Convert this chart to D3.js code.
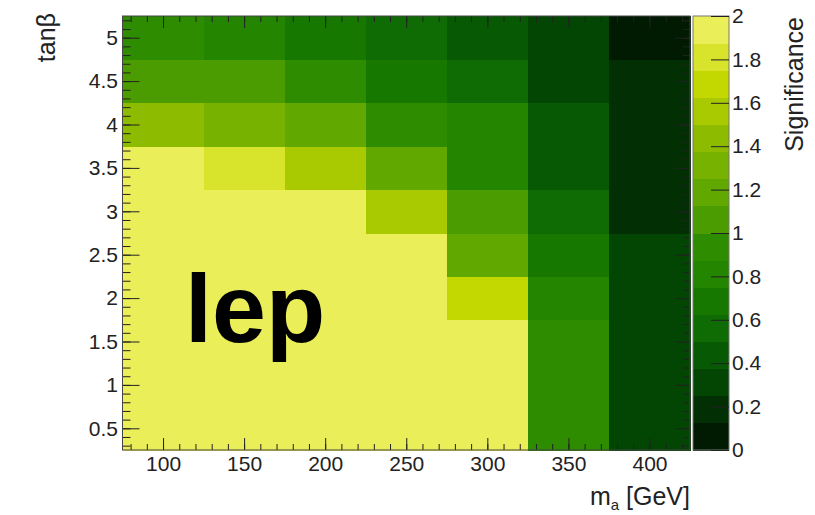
<!DOCTYPE html>
<html>
<head>
<meta charset="utf-8">
<script src="https://cdn.jsdelivr.net/npm/d3@7"></script>
<style>
  html, body { margin: 0; padding: 0; background: #fff; }
  svg text { font-family: "Liberation Sans", Arial, Helvetica, sans-serif; fill: #222; }
</style>
</head>
<body>
<svg id="chart" width="815" height="515"></svg>
<script>
// Pseudoscalar mass bins (GeV) and tan(beta) bins
const massPoints = [100, 150, 200, 250, 300, 350, 400];
const tanBeta = [0.5, 1, 1.5, 2, 2.5, 3, 3.5, 4, 4.5, 5];

// Significance per tan(beta) row, one value per mass bin
const sig_tb05 = [2, 2, 2, 2, 2, 0.95, 0.3];
const sig_tb10 = [2, 2, 2, 2, 2, 0.95, 0.3];
const sig_tb15 = [2, 2, 2, 2, 2, 0.95, 0.3];
const sig_tb20 = [2, 2, 2, 2, 1.7, 0.8, 0.3];
const sig_tb25 = [2, 2, 2, 2, 1.2, 0.7, 0.3];
const sig_tb30 = [2, 2, 2, 1.55, 1.05, 0.55, 0.2];
const sig_tb35 = [2, 1.8, 1.55, 1.2, 0.8, 0.45, 0.2];
const sig_tb40 = [1.45, 1.3, 1.2, 0.95, 0.75, 0.45, 0.2];
const sig_tb45 = [1.05, 1.05, 0.95, 0.7, 0.6, 0.3, 0.2];
const sig_tb50 = [0.95, 0.8, 0.7, 0.55, 0.45, 0.3, 0.05];
const significanceRows = [sig_tb05, sig_tb10, sig_tb15, sig_tb20, sig_tb25,
                          sig_tb30, sig_tb35, sig_tb40, sig_tb45, sig_tb50];

// Axis tick labels
const xTickValues = [100, 150, 200, 250, 300, 350, 400];
const yTickValues = [0.5, 1, 1.5, 2, 2.5, 3, 3.5, 4, 4.5, 5];
const zTickValues = [0, 0.2, 0.4, 0.6, 0.8, 1, 1.2, 1.4, 1.6, 1.8, 2];

// 16-step palette, dark to light
const palette = ["#011a02", "#022f04", "#034603", "#075a03", "#0f6b04", "#177800",
                 "#238500", "#2e8c00", "#4a9c00", "#61a800", "#78b200", "#8dbb00",
                 "#a9ca00", "#c3d800", "#d8e32b", "#eaee58"];

const svg = d3.select("#chart");
const L = 122.5, R = 690, T = 16, B = 450;

const x = d3.scaleLinear().domain([75, 425]).range([L, R]);
const y = d3.scaleLinear().domain([0.25, 5.25]).range([B, T]);
const color = d3.scaleQuantize().domain([0, 2]).range(palette);

// Flatten grid into cells
const cells = [];
tanBeta.forEach((tb, i) => {
  massPoints.forEach((m, j) => {
    cells.push({ m, tb, v: significanceRows[i][j] });
  });
});

const plot = svg.append("g");
plot.selectAll("rect.cell")
  .data(cells)
  .join("rect")
  .attr("class", "cell")
  .attr("x", d => x(d.m - 25))
  .attr("y", d => y(d.tb + 0.25))
  .attr("width", d => x(d.m + 25) - x(d.m - 25) + 0.5)
  .attr("height", d => y(d.tb - 0.25) - y(d.tb + 0.25) + 0.5)
  .attr("fill", d => color(d.v))
  .attr("shape-rendering", "crispEdges");

// Overlaid label
svg.append("text")
  .attr("x", 185)
  .attr("y", 342)
  .attr("font-size", 97)
  .attr("font-weight", "bold")
  .style("fill", "#000")
  .text("lep");

// Ticks: inward on all four sides, ROOT style
const tickStyle = g => {
  g.select(".domain").remove();
  g.selectAll(".tick line").attr("stroke", "#222").attr("stroke-width", 1);
};
const xMinor = d3.range(80, 421, 10);
const yMinor = d3.range(0.3, 5.21, 0.1).map(v => +v.toFixed(2));

// bottom
svg.append("g").attr("transform", `translate(0,${B})`)
  .call(d3.axisBottom(x).tickValues(xMinor).tickSize(-6).tickFormat(""))
  .call(tickStyle);
svg.append("g").attr("transform", `translate(0,${B})`)
  .call(d3.axisBottom(x).tickValues(xTickValues).tickSize(-12).tickPadding(6))
  .call(tickStyle)
  .call(g => g.selectAll("text").attr("font-size", 21).style("font-family", null));
// top
svg.append("g").attr("transform", `translate(0,${T})`)
  .call(d3.axisTop(x).tickValues(xMinor).tickSize(-6).tickFormat(""))
  .call(tickStyle);
svg.append("g").attr("transform", `translate(0,${T})`)
  .call(d3.axisTop(x).tickValues(xTickValues).tickSize(-12).tickFormat(""))
  .call(tickStyle);
// left
svg.append("g").attr("transform", `translate(${L},0)`)
  .call(d3.axisLeft(y).tickValues(yMinor).tickSize(-8).tickFormat(""))
  .call(tickStyle);
svg.append("g").attr("transform", `translate(${L},0)`)
  .call(d3.axisLeft(y).tickValues(yTickValues).tickSize(-17).tickPadding(4.5)
        .tickFormat(d3.format("~g")))
  .call(tickStyle)
  .call(g => g.selectAll("text").attr("font-size", 21).style("font-family", null));
// right
svg.append("g").attr("transform", `translate(${R},0)`)
  .call(d3.axisRight(y).tickValues(yMinor).tickSize(-7).tickFormat(""))
  .call(tickStyle);
svg.append("g").attr("transform", `translate(${R},0)`)
  .call(d3.axisRight(y).tickValues(yTickValues).tickSize(-15).tickFormat(""))
  .call(tickStyle);

// Frame
svg.append("rect")
  .attr("x", L).attr("y", T).attr("width", R - L).attr("height", B - T)
  .attr("fill", "none").attr("stroke", "#444").attr("stroke-width", 1);

// Colour scale bar
const CB0 = 693, CB1 = 729;
const z = d3.scaleLinear().domain([0, 2]).range([B, T]);
const bands = palette.map((c, i) => ({ lo: i * 2 / palette.length, hi: (i + 1) * 2 / palette.length, c }));
svg.append("g").selectAll("rect")
  .data(bands)
  .join("rect")
  .attr("x", CB0)
  .attr("y", d => z(d.hi))
  .attr("width", CB1 - CB0)
  .attr("height", d => z(d.lo) - z(d.hi) + 0.5)
  .attr("fill", d => d.c)
  .attr("shape-rendering", "crispEdges");
svg.append("rect")
  .attr("x", CB0).attr("y", T).attr("width", CB1 - CB0).attr("height", B - T)
  .attr("fill", "none").attr("stroke", "#777").attr("stroke-width", 1);
svg.append("g").attr("transform", `translate(${CB1},0)`)
  .call(d3.axisRight(z).tickValues(zTickValues).tickSize(-18).tickPadding(3)
        .tickFormat(d3.format("~g")))
  .call(tickStyle)
  .call(g => g.selectAll("text").attr("font-size", 21).style("font-family", null));

// Axis titles
svg.append("text")
  .attr("transform", "translate(55,13) rotate(-90)")
  .attr("text-anchor", "end")
  .attr("font-size", 25)
  .text("tanβ");

const xt = svg.append("text")
  .attr("x", R)
  .attr("y", 505)
  .attr("text-anchor", "end")
  .attr("font-size", 25);
xt.append("tspan").text("m");
xt.append("tspan").attr("font-size", 15).attr("dy", 5).text("a");
xt.append("tspan").attr("dy", -5).text(" [GeV]");

svg.append("text")
  .attr("transform", "translate(803,17) rotate(-90)")
  .attr("text-anchor", "end")
  .attr("font-size", 25)
  .text("Significance");
</script>
</body>
</html>
